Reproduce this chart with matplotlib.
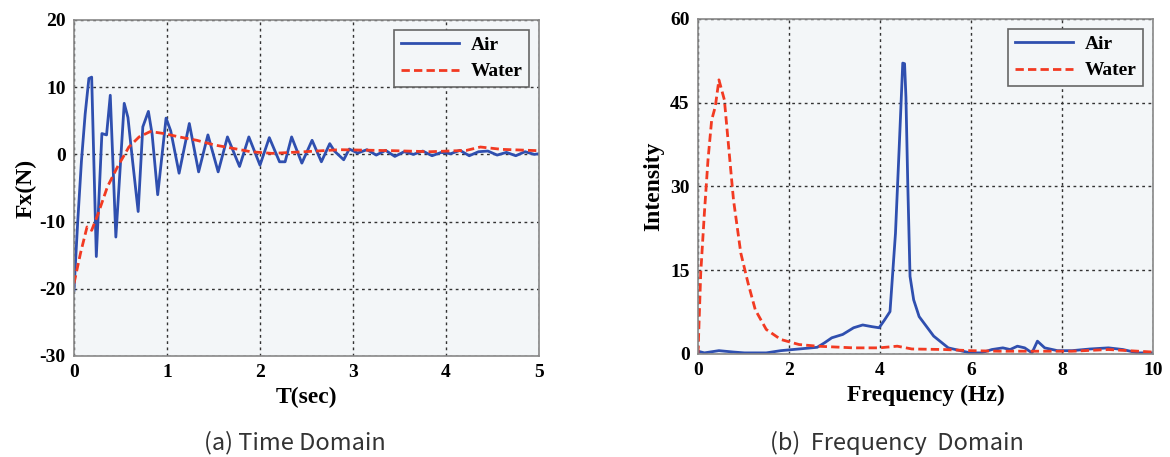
import matplotlib
matplotlib.use("Agg")
import matplotlib.pyplot as plt

# time domain data
t_air = [0, 0.04, 0.08, 0.12, 0.16, 0.19, 0.24, 0.30, 0.35, 0.39, 0.45, 0.54, 0.58,
         0.63, 0.69, 0.74, 0.80, 0.84, 0.90, 0.99, 1.04, 1.13, 1.24, 1.34, 1.44,
         1.55, 1.65, 1.78, 1.88, 2.00, 2.10, 2.21, 2.27, 2.34, 2.45, 2.56, 2.66,
         2.75, 2.80, 2.90, 2.96, 3.05, 3.15, 3.25, 3.35, 3.45, 3.55, 3.65, 3.75,
         3.85, 3.95, 4.05, 4.15, 4.25, 4.35, 4.45, 4.55, 4.65, 4.75, 4.85, 4.95, 5.0]
fx_air = [-20.2, -10, -1, 6, 11.3, 11.5, -15.2, 3.1, 2.9, 8.8, -12.3, 7.6, 5.5,
          -1, -8.5, 4.1, 6.4, 3, -6.0, 5.4, 3.5, -2.8, 4.6, -2.6, 2.9,
          -2.6, 2.6, -1.8, 2.6, -1.6, 2.5, -1.1, -1.1, 2.6, -1.3, 2.1, -1.1,
          1.6, 0.5, -0.8, 0.8, 0.2, 0.7, -0.1, 0.6, -0.3, 0.4, 0.0, 0.5,
          -0.2, 0.3, 0.1, 0.6, -0.2, 0.4, 0.5, -0.1, 0.3, -0.2, 0.4, 0.0, 0.1]

t_water = [0, 0.07, 0.14, 0.19, 0.26, 0.36, 0.47, 0.59, 0.70, 0.82, 0.97, 1.13,
           1.32, 1.51, 1.71, 1.90, 2.13, 2.48, 2.86, 3.44, 3.83, 4.22, 4.37, 4.6, 5.0]
fx_water = [-19.2, -14.7, -10.8, -11.3, -8.8, -4.8, -1.8, 1.1, 2.6, 3.4, 3.1, 2.6,
            2.1, 1.4, 0.9, 0.4, 0.15, 0.4, 0.7, 0.55, 0.4, 0.6, 1.1, 0.75, 0.55]

# frequency domain data
f_water = [0, 0.06, 0.14, 0.22, 0.30, 0.38, 0.46, 0.58, 0.66, 0.78, 0.94, 1.10,
           1.26, 1.50, 1.82, 2.22, 2.62, 3.42, 3.98, 4.38, 4.70, 5.42, 5.98, 6.62,
           7.42, 8.22, 9.02, 10.0]
i_water = [0, 14.5, 25.2, 34.8, 41.9, 44.3, 49.1, 45.5, 38.3, 27.6, 18.1, 12.7,
           7.9, 4.4, 2.6, 1.7, 1.4, 1.1, 1.1, 1.4, 0.9, 0.8, 0.6, 0.5,
           0.5, 0.5, 0.8, 0.35]

f_air = [0, 0.14, 0.46, 0.78, 1.02, 1.5, 1.82, 2.22, 2.62, 2.78, 2.94, 3.18, 3.42,
         3.62, 3.82, 3.98, 4.10, 4.22, 4.34, 4.42, 4.50, 4.54, 4.57, 4.61, 4.66,
         4.74, 4.86, 5.18, 5.50, 5.82, 5.98, 6.22, 6.46, 6.70, 6.86, 7.02, 7.18,
         7.34, 7.46, 7.62, 7.90, 8.22, 8.62, 9.02, 9.34, 9.66, 10.0]
i_air = [0.5, 0.2, 0.6, 0.35, 0.2, 0.2, 0.6, 0.9, 1.2, 2.0, 2.9, 3.5, 4.7,
         5.2, 4.9, 4.7, 6.1, 7.6, 21.6, 36.6, 52.1, 52.0, 46.0, 30.6, 13.9,
         9.7, 6.7, 3.2, 1.1, 0.5, 0.2, 0.2, 0.8, 1.1, 0.8, 1.4, 1.1,
         0.2, 2.3, 1.1, 0.6, 0.6, 0.9, 1.1, 0.8, 0.2, 0.2]

blue = '#2F4FAF'
red = '#F23A22'
serif = 'Liberation Serif'

plt.rcParams['font.family'] = serif
plt.rcParams['font.weight'] = 'bold'
plt.rcParams['axes.labelweight'] = 'bold'
plt.rcParams['axes.unicode_minus'] = False

fig = plt.figure(figsize=(11.7, 4.57), dpi=100)
ax1 = fig.add_axes([74 / 1170, 1 - 356 / 457, 465 / 1170, 336 / 457])
ax2 = fig.add_axes([698 / 1170, 1 - 354 / 457, 455 / 1170, 335 / 457])


def style(ax):
    ax.set_facecolor('#F3F6F8')
    for s in ax.spines.values():
        s.set_color('#888888')
        s.set_linewidth(1.2)
    ax.grid(True, color='#333333', linestyle=(0, (2, 2.5)), linewidth=1)
    ax.tick_params(length=0, pad=6, labelsize=14)
    leg = ax.legend(loc='upper right', prop={'family': serif, 'weight': 'bold', 'size': 14},
                    fancybox=False, edgecolor='#666666', framealpha=1, facecolor='#F3F6F8',
                    handlelength=3.0, borderpad=0.35, labelspacing=0.45, handletextpad=0.6)
    leg.get_frame().set_linewidth(1.2)


ax1.plot(t_air, fx_air, color=blue, lw=2, label='Air')
ax1.plot(t_water, fx_water, color=red, lw=2, ls=(0, (3, 1.5)), label='Water')
ax1.set_xlim(0, 5)
ax1.set_ylim(-30, 20)
ax1.set_xticks([0, 1, 2, 3, 4, 5])
ax1.set_yticks([-30, -20, -10, 0, 10, 20])
ax1.set_xlabel('T(sec)', fontsize=17, labelpad=4)
ax1.set_ylabel('Fx(N)', fontsize=17, labelpad=2)
style(ax1)

ax2.plot(f_air, i_air, color=blue, lw=2, label='Air')
ax2.plot(f_water, i_water, color=red, lw=2, ls=(0, (3, 1.5)), label='Water')
ax2.set_xlim(0, 10)
ax2.set_ylim(0, 60)
ax2.set_xticks([0, 2, 4, 6, 8, 10])
ax2.set_yticks([0, 15, 30, 45, 60])
ax2.set_xlabel('Frequency (Hz)', fontsize=17, labelpad=4)
ax2.set_ylabel('Intensity', fontsize=17, labelpad=4)
style(ax2)

fig.text(295 / 1170, 1 - 443 / 457, '(a) Time Domain', ha='center', va='center',
         fontsize=17, color='#333333', family='Noto Sans CJK KR', weight='normal')
fig.text(897 / 1170, 1 - 443 / 457, '(b)  Frequency  Domain', ha='center', va='center',
         fontsize=17, color='#333333', family='Noto Sans CJK KR', weight='normal')

fig.savefig('out.png', dpi=100, facecolor='white')
